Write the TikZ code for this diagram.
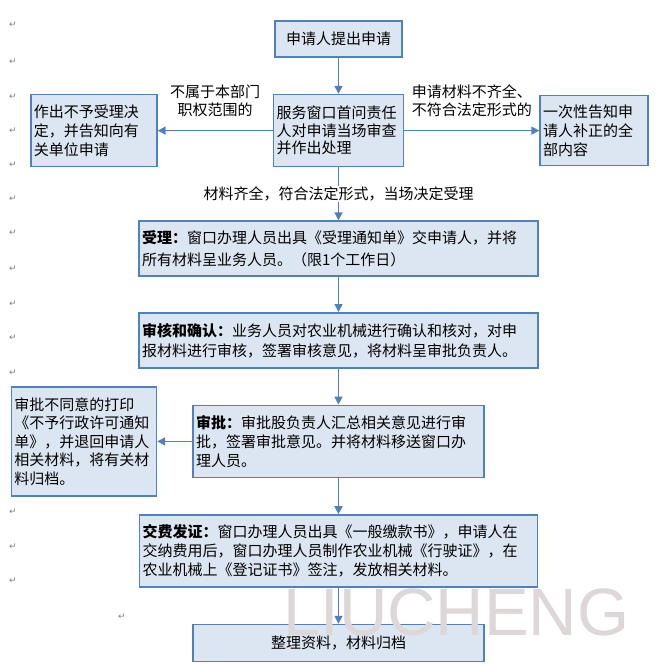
\documentclass[tikz,border=0pt]{standalone}
\usepackage{fontspec}
\setmainfont{Noto Sans CJK SC}
\newfontfamily\marksfont{DejaVu Sans}
\newfontfamily\wmfont{Liberation Sans}
\usetikzlibrary{arrows.meta, positioning}
\definecolor{boxfill}{RGB}{220,230,242}
\definecolor{boxline}{RGB}{79,129,189}
\definecolor{wmgray}{RGB}{222,215,215}

\begin{document}
\begin{tikzpicture}[
        > = {Triangle[length=8pt, width=8pt]}, % arrow head style
        node distance = 36pt, % distance between boxes
        x = 1pt, y = 1pt
    ]

    \tikzstyle{box}=[
        draw = boxline,
        fill = boxfill,
        line width = 1.6pt,
        inner xsep = 3pt,
        inner ysep = 2pt,
        align = left,
        font = \fontsize{15}{19}\selectfont
    ]
    \tikzstyle{flow}=[
        ->,
        draw = boxline,
        line width = 1.6pt
    ]
    \tikzstyle{note}=[
        font = \fontsize{15}{18}\selectfont,
        align = center,
        inner sep = 1pt
    ]
    \tikzstyle{pilcrow}=[
        font = \marksfont\fontsize{9}{9}\selectfont,
        text = gray,
        inner sep = 0pt
    ]

    \path[use as bounding box] (0,0) rectangle (660,-664);

    % paragraph marks down the margin
    \foreach \y in {25,62,97,131,165,199,233,269,304,338,373,512,547,581}
        \node[pilcrow] at (13,-\y) {↵};
    \node[pilcrow] at (122,-617) {↵};

    \node[box, text width=121pt, minimum height=36pt, align=center] (apply) at (338.5,-39) {申请人提出申请};
    \node[box, text width=124pt, minimum height=72pt, font=\fontsize{15}{17.5}\selectfont] (review) [below=of apply] {服务窗口首问责任\\人对申请当场审查\\并作出处理};
    \node[box, text width=120pt, minimum height=72pt] (reject) [left=115pt of review] {作出不予受理决\\定，并告知向有\\关单位申请};
    \node[box, text width=102pt, minimum height=70pt] (notify) [right=135pt of review] {一次性告知申\\请人补正的全\\部内容};
    \node[box, text width=393pt, minimum height=55pt, font=\fontsize{15}{22}\selectfont] (accept) [below=53pt of review] {\textbf{受理：}窗口办理人员出具《受理通知单》交申请人，并将\\所有材料呈业务人员。（限1个工作日）};
    \node[box, text width=393pt, minimum height=55pt, font=\fontsize{15}{20}\selectfont] (check) [below=35pt of accept] {\textbf{审核和确认：}业务人员对农业机械进行确认和核对，对申\\报材料进行审核，签署审核意见，将材料呈审批负责人。};
    \node[box, text width=285pt, minimum height=72pt] (approve) [below=of check] {\textbf{审批：}审批股负责人汇总相关意见进行审\\批，签署审批意见。并将材料移送窗口办\\理人员。};
    \node[box, text width=139pt, minimum height=109pt, font=\fontsize{15}{18.5}\selectfont] (refuse) [left=35pt of approve] {审批不同意的打印\\《不予行政许可通知\\单》，并退回申请人\\相关材料，将有关材\\料归档。};
    \node[box, text width=392pt, minimum height=72pt] (issue) [below=of approve] {\textbf{交费发证：}窗口办理人员出具《一般缴款书》，申请人在\\交纳费用后，窗口办理人员制作农业机械《行驶证》，在\\农业机械上《登记证书》签注，发放相关材料。};
    \node[box, text width=285pt, minimum height=37pt, align=center] (archive) [below=of issue] {整理资料，材料归档};

    \draw[flow] (apply) -- (review);
    \draw[flow] (review) -- node[note, above=12pt] {不属于本部门\\职权范围的} (reject);
    \draw[flow] (review) -- node[note, above=12pt] {申请材料不齐全、\\不符合法定形式的} (notify);
    \draw[flow] (review) -- node[note, fill=white] {材料齐全，符合法定形式，当场决定受理} (accept);
    \draw[flow] (accept) -- (check);
    \draw[flow] (check) -- (approve);
    \draw[flow] (approve) -- (refuse);
    \draw[flow] (approve) -- (issue);
    \draw[flow] (issue) -- (archive);

    % watermark over the last box
    \node[font=\wmfont\fontsize{67}{67}\selectfont, text=wmgray, anchor=base west, inner sep=0pt] (liucheng) at (283,-635) {LIUCHENG};

\end{tikzpicture}
\end{document}
